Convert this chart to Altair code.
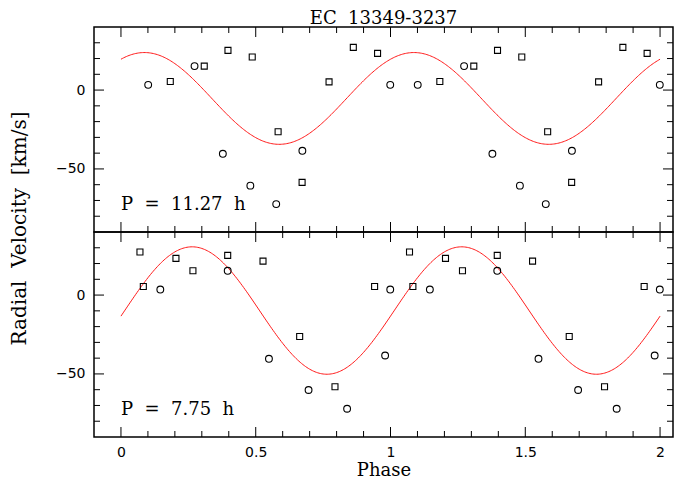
import altair as alt
import pandas as pd

# ---------------- data ----------------
title_text = "EC\u00a0\u00a013349-3237"
y_title = "Radial\u00a0\u00a0Velocity\u00a0\u00a0[km/s]"
x_title = "Phase"

# top panel (P = 11.27 h), phases in [0,1); plotted again at phase + 1
top_circ_phase = [0.101, 0.273, 0.378, 0.480, 0.576, 0.673, 0.999]
top_circ_v = [3.3, 15.2, -40.4, -60.6, -72.3, -38.5, 3.3]
top_sq_phase = [0.183, 0.309, 0.397, 0.487, 0.583, 0.672, 0.772, 0.862, 0.952]
top_sq_v = [5.4, 15.2, 25.2, 21.0, -26.4, -58.5, 5.2, 27.1, 23.3]
top_label = "P\u00a0\u00a0=\u00a0\u00a011.27\u00a0\u00a0h"
top_fit = {"gamma": -5.3, "K": 29.1, "phase_max": 0.087}

# bottom panel (P = 7.75 h)
bot_circ_phase = [0.146, 0.396, 0.549, 0.696, 0.839, 0.980, 0.999]
bot_circ_v = [3.5, 15.4, -40.4, -60.2, -72.1, -38.3, 3.5]
bot_sq_phase = [0.0705, 0.083, 0.204, 0.267, 0.396, 0.527, 0.663, 0.794, 0.941]
bot_sq_v = [27.3, 5.4, 23.3, 15.4, 25.2, 21.5, -26.3, -58.1, 5.4]
bot_label = "P\u00a0\u00a0=\u00a0\u00a07.75\u00a0\u00a0h"
bot_fit = {"gamma": -9.8, "K": 40.4, "phase_max": 0.264}

label_phase = [0.0]
label_v = [-76]

x_domain = [-0.1, 2.048]
y_domain = [-90, 40]
x_major = [0, 0.5, 1, 1.5, 2]
x_minor = [0.1, 0.2, 0.3, 0.4, 0.6, 0.7, 0.8, 0.9,
           1.1, 1.2, 1.3, 1.4, 1.6, 1.7, 1.8, 1.9]
y_major = [-50, 0]
y_minor = [-80, -70, -60, -40, -30, -20, -10, 10, 20, 30]

# ---------------- styling ----------------
W, H = 579, 205
MAJ, MIN = 10, 6
SERIF = "DejaVu Serif"
SANS = "DejaVu Sans"


def panel(circ_phase, circ_v, sq_phase, sq_v, fit, label, bottom):
    xs = alt.Scale(domain=x_domain, nice=False, zero=False)
    ys = alt.Scale(domain=y_domain, nice=False, zero=False)
    if bottom:
        xaxis = alt.Axis(values=x_major, format="~g", ticks=False, tickSize=0,
                         domain=False, grid=False, labelFont=SANS, labelFontSize=14,
                         labelColor="black", labelPadding=8, title=x_title,
                         titleFont=SERIF, titleFontSize=18, titleFontWeight="normal",
                         titleColor="black", titleBaseline="alphabetic", titleY=38)
        yaxis = alt.Axis(values=y_major, ticks=False, tickSize=0, domain=False,
                         grid=False, labelFont=SANS, labelFontSize=14,
                         labelColor="black", labelPadding=9, title=None)
    else:
        xaxis = None
        yaxis = alt.Axis(values=y_major, ticks=False, tickSize=0, domain=False,
                         grid=False, labelFont=SANS, labelFontSize=14,
                         labelColor="black", labelPadding=9, title=y_title,
                         titleFont=SERIF, titleFontSize=20, titleFontWeight="normal",
                         titleColor="black", titleAngle=270, titleAlign="center",
                         titleBaseline="alphabetic", titleX=-69, titleY=201)
    X = alt.X("phase:Q", scale=xs, axis=xaxis)
    Y = alt.Y("v:Q", scale=ys, axis=yaxis)

    circ = pd.DataFrame({"phase": circ_phase + [p + 1 for p in circ_phase],
                         "v": circ_v + circ_v})
    sq = pd.DataFrame({"phase": sq_phase + [p + 1 for p in sq_phase],
                       "v": sq_v + sq_v})

    curve = (alt.Chart(alt.sequence(0, 2.0001, 0.005, as_="phase"))
             .transform_calculate(v=f"{fit['gamma']} + {fit['K']}*cos(2*PI*(datum.phase - {fit['phase_max']}))")
             .mark_line(color="#ff1a1a", strokeWidth=1, clip=True)
             .encode(x=X, y=Y))
    circles = alt.Chart(circ).mark_point(shape="circle", size=46, filled=False,
                                         color="black", strokeWidth=1.1,
                                         opacity=1).encode(x=X, y=Y)
    squares = alt.Chart(sq).mark_point(shape="square", size=36, filled=False,
                                       color="black", strokeWidth=1.1,
                                       opacity=1).encode(x=X, y=Y)
    text = alt.Chart(pd.DataFrame({"phase": label_phase, "v": label_v,
                                   "t": [label]})).mark_text(
        align="left", baseline="alphabetic", font=SERIF, fontSize=18,
        color="black").encode(x=X, y=Y, text="t:N")

    ymaj = pd.DataFrame({"v": y_major})
    ymin = pd.DataFrame({"v": y_minor})
    xmaj = pd.DataFrame({"phase": x_major})
    xmin = pd.DataFrame({"phase": x_minor})
    tk = dict(color="black", strokeWidth=1)
    ticks = [
        alt.Chart(ymaj).mark_rule(**tk).encode(y=Y, x=alt.value(0), x2=alt.value(MAJ)),
        alt.Chart(ymin).mark_rule(**tk).encode(y=Y, x=alt.value(0), x2=alt.value(MIN)),
        alt.Chart(ymaj).mark_rule(**tk).encode(y=Y, x=alt.value(W), x2=alt.value(W - MAJ)),
        alt.Chart(ymin).mark_rule(**tk).encode(y=Y, x=alt.value(W), x2=alt.value(W - MIN)),
        alt.Chart(xmaj).mark_rule(**tk).encode(x=X, y=alt.value(0), y2=alt.value(MAJ)),
        alt.Chart(xmin).mark_rule(**tk).encode(x=X, y=alt.value(0), y2=alt.value(MIN)),
        alt.Chart(xmaj).mark_rule(**tk).encode(x=X, y=alt.value(H), y2=alt.value(H - MAJ)),
        alt.Chart(xmin).mark_rule(**tk).encode(x=X, y=alt.value(H), y2=alt.value(H - MIN)),
    ]
    return alt.layer(curve, circles, squares, text, *ticks).properties(width=W, height=H)


top = panel(top_circ_phase, top_circ_v, top_sq_phase, top_sq_v, top_fit, top_label, False)
top = top.properties(title=alt.TitleParams(title_text, font=SERIF, fontSize=18,
                                           fontWeight="normal", anchor="middle",
                                           frame="group", baseline="alphabetic",
                                           offset=-15, color="black"))
bottom = panel(bot_circ_phase, bot_circ_v, bot_sq_phase, bot_sq_v, bot_fit, bot_label, True)

chart = (alt.vconcat(top, bottom, spacing=0, bounds="flush")
         .properties(padding={"left": 0, "top": 0, "right": 0, "bottom": 0},
                     background="white")
         .configure_view(stroke="black", strokeWidth=1.5))

chart.save("out.html", embed_options={"renderer": "svg", "actions": False})
